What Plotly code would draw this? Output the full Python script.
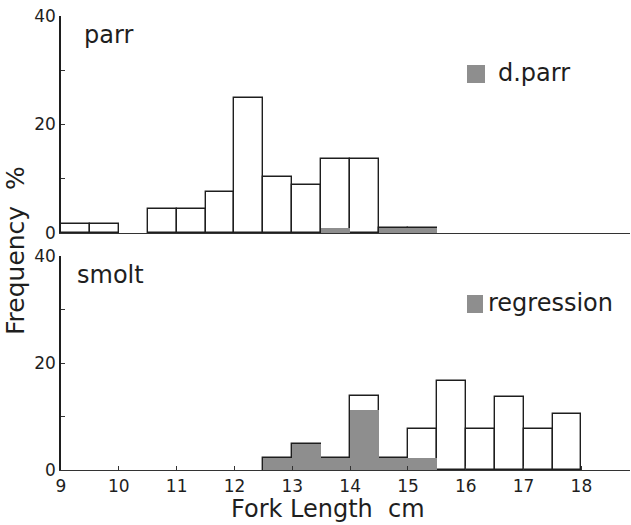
import plotly.graph_objects as go

W, H = 631, 525

# ---- data (bin centres, 0.5 cm wide bins) ----
parr_bins = [9.25, 9.75, 10.75, 11.25, 11.75, 12.25, 12.75, 13.25, 13.75, 14.25, 14.75, 15.25]
parr_total = [1.6, 1.6, 4.4, 4.4, 7.5, 24.8, 10.4, 8.9, 13.7, 13.7, 1.0, 1.0]
dparr_bins = [13.75, 14.75, 15.25]
dparr_vals = [1.0, 1.0, 1.0]

smolt_bins = [12.75, 13.25, 13.75, 14.25, 14.75, 15.25, 15.75, 16.25, 16.75, 17.25, 17.75]
smolt_total = [2.2, 4.9, 2.2, 13.9, 2.2, 7.7, 16.6, 7.7, 13.6, 7.7, 10.5]
regr_bins = [12.75, 13.25, 13.75, 14.25, 14.75, 15.25]
regr_vals = [2.2, 4.9, 2.2, 11.2, 2.2, 2.2]

x_ticks = [9, 10, 11, 12, 13, 14, 15, 16, 17, 18]
y_ticks = [0, 10, 20, 30, 40]
y_ticktext = ["0", "", "20", "", "40"]

BIN_W = 0.5
INK = "#1e1e1e"
GREY = "#8e8e8e"
FONT = "DejaVu Sans"


def px(x):
    return x / W


def py(y):
    return 1 - y / H


fig = go.Figure()

fig.add_trace(go.Bar(x=parr_bins, y=parr_total, width=BIN_W, marker=dict(color="white", line=dict(color=INK, width=1.4)),
                     xaxis="x", yaxis="y", showlegend=False))
fig.add_trace(go.Bar(x=dparr_bins, y=dparr_vals, width=BIN_W, marker=dict(color=GREY, line=dict(width=0)),
                     xaxis="x", yaxis="y", name="d.parr", showlegend=False))
fig.add_trace(go.Bar(x=smolt_bins, y=smolt_total, width=BIN_W, marker=dict(color="white", line=dict(color=INK, width=1.4)),
                     xaxis="x2", yaxis="y2", showlegend=False))
fig.add_trace(go.Bar(x=regr_bins, y=regr_vals, width=BIN_W, marker=dict(color=GREY, line=dict(width=0)),
                     xaxis="x2", yaxis="y2", name="regression", showlegend=False))

xdom = [px(61), px(630)]
xr = [9, 18.84]
common_x = dict(domain=xdom, range=xr, showgrid=False, zeroline=False, showline=True, automargin=False,
                linecolor="#333", linewidth=1.2, fixedrange=True)
fig.update_layout(
    xaxis=dict(**common_x, anchor="y", ticks="", showticklabels=False),
    xaxis2=dict(**common_x, anchor="y2", tickmode="array", tickvals=x_ticks, ticks="inside", ticklen=4,
                tickcolor="#333", tickfont=dict(family=FONT, size=17, color=INK)),
)
common_y = dict(range=[0, 40], showgrid=False, zeroline=False, showline=True, linecolor=INK, linewidth=1.5,
                automargin=False, fixedrange=True, tickmode="array", tickvals=y_ticks, ticktext=y_ticktext,
                ticks="inside", ticklen=4, tickcolor="#333", tickfont=dict(family=FONT, size=17, color=INK),
                ticklabelstandoff=0)
fig.update_layout(
    yaxis=dict(**common_y, domain=[py(233), py(16)], anchor="x"),
    yaxis2=dict(**common_y, domain=[py(470), py(256)], anchor="x2"),
)

ann_font = dict(family=FONT, size=24, color=INK)
annotations = [
    dict(text="parr", x=px(82), y=py(35), xanchor="left", yanchor="middle"),
    dict(text="smolt", x=px(75), y=py(275), xanchor="left", yanchor="middle"),
    dict(text="d.parr", x=px(496), y=py(73), xanchor="left", yanchor="middle"),
    dict(text="regression", x=px(486), y=py(303), xanchor="left", yanchor="middle"),
    dict(text="Fork Length\u00a0\u00a0cm", x=px(328), y=py(509), xanchor="center", yanchor="middle",
         font=dict(family=FONT, size=24, color=INK)),
    dict(text="Frequency\u00a0\u00a0%", x=px(15), y=py(251), xanchor="center", yanchor="middle", textangle=-90,
         font=dict(family=FONT, size=25, color=INK)),
]
for a in annotations:
    a.setdefault("font", ann_font)
    a.update(xref="paper", yref="paper", showarrow=False)

shapes = [
    dict(type="rect", xref="paper", yref="paper", x0=px(467), x1=px(485), y0=py(83), y1=py(65),
         fillcolor=GREY, line=dict(width=0)),
    dict(type="rect", xref="paper", yref="paper", x0=px(467), x1=px(483), y0=py(313), y1=py(295),
         fillcolor=GREY, line=dict(width=0)),
]

fig.update_layout(
    width=W, height=H, margin=dict(l=0, r=0, t=0, b=0),
    paper_bgcolor="white", plot_bgcolor="white",
    barmode="overlay", bargap=0,
    annotations=annotations, shapes=shapes,
    showlegend=False,
)

fig.write_html("out.html", config={"displayModeBar": False},
               post_script="document.body.style.margin='0';document.body.style.overflow='hidden';")
